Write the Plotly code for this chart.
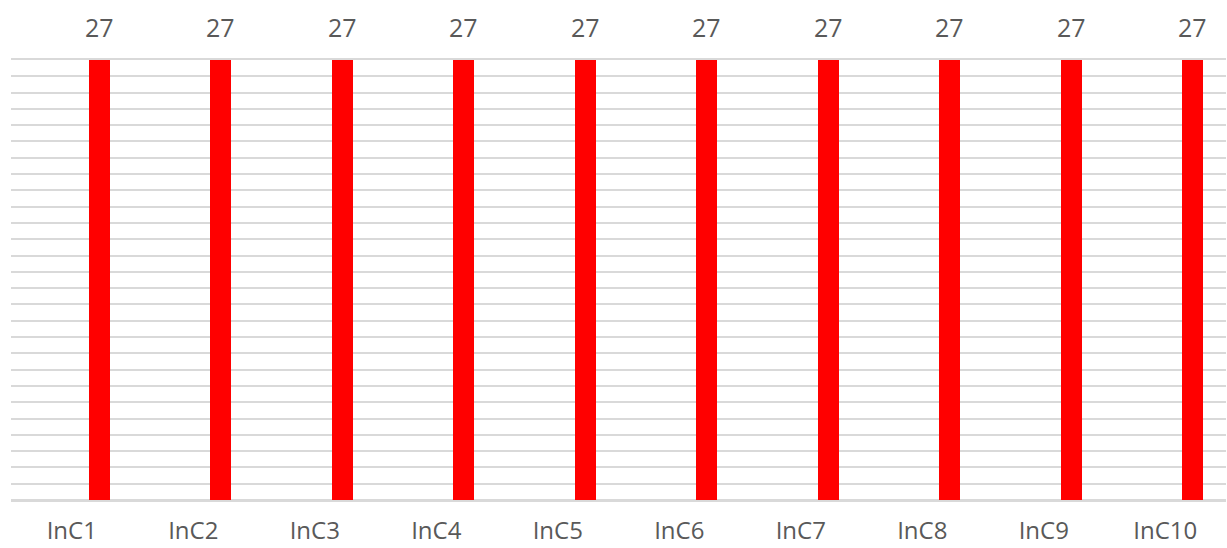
import plotly.graph_objects as go

categories = ["InC1", "InC2", "InC3", "InC4", "InC5", "InC6", "InC7", "InC8", "InC9", "InC10"]
values = [27, 27, 27, 27, 27, 27, 27, 27, 27, 27]

BAR_OFFSET = 0.14
BAR_WIDTH = 0.173
FONT = "Open Sans"
TEXT_COLOR = "#595959"
GRID_COLOR = "#d9d9d9"

fig = go.Figure()
fig.add_trace(go.Bar(
    x=categories,
    y=values,
    offset=BAR_OFFSET,
    width=BAR_WIDTH,
    marker=dict(color="#ff0000", line=dict(width=0)),
    hoverinfo="x+y",
))

# value labels above each bar
for i, v in enumerate(values):
    fig.add_annotation(
        x=i + BAR_OFFSET + BAR_WIDTH / 2,
        y=v,
        text=str(v),
        showarrow=False,
        yanchor="bottom",
        yshift=14,
        font=dict(family=FONT, size=25, color=TEXT_COLOR),
    )

fig.update_layout(
    width=1227,
    height=548,
    margin=dict(l=11, r=1, t=60, b=48, autoexpand=False),
    paper_bgcolor="white",
    plot_bgcolor="white",
    showlegend=False,
    bargap=0,
    xaxis=dict(
        range=[-0.5, 9.5],
        automargin=False,
        showgrid=False,
        showline=True,
        mirror=True,
        linecolor=GRID_COLOR,
        linewidth=1.5,
        zeroline=False,
        ticks="",
        ticklabelstandoff=8,
        tickfont=dict(family=FONT, size=24, color=TEXT_COLOR),
    ),
    yaxis=dict(
        range=[0, 27],
        dtick=1,
        automargin=False,
        showgrid=True,
        gridcolor=GRID_COLOR,
        gridwidth=1.5,
        zeroline=True,
        zerolinecolor=GRID_COLOR,
        zerolinewidth=1.5,
        showline=False,
        showticklabels=False,
        ticks="",
    ),
)

fig.write_html("out.html")
